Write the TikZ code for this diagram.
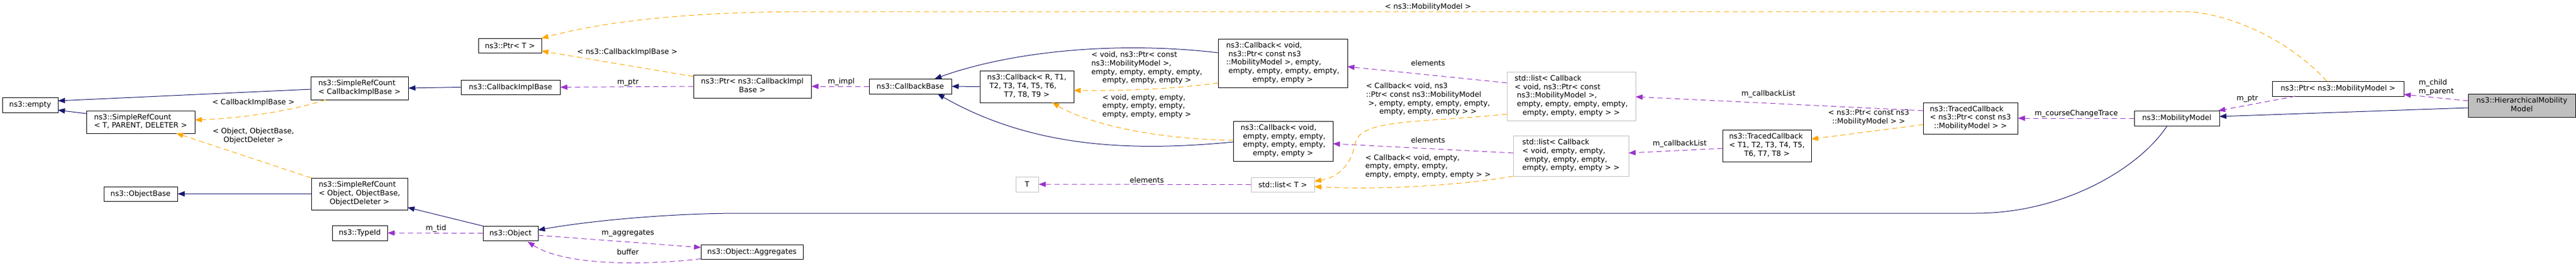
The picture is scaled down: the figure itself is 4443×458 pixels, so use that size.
\documentclass[tikz,border=0pt]{standalone}
\usepackage{fontspec}
\setmainfont{DejaVu Sans}
\usetikzlibrary{arrows.meta,calc}
\definecolor{navy}{HTML}{191970}
\definecolor{purp}{HTML}{9A32CD}
\definecolor{orng}{HTML}{FFA500}
\definecolor{gry}{HTML}{BFBFBF}
\newcommand{\mlines}[1]{\begin{tabular}{@{}l@{}}#1\end{tabular}}
\newcommand{\lastrow}[1]{\multicolumn{1}{@{}c@{}}{#1}}
\begin{document}
\begin{tikzpicture}[x=1pt,y=-1pt,
  font=\fontsize{12.7}{14.7}\selectfont,
  box/.style={draw=black, fill=white, line width=1pt, inner sep=0pt, align=center},
  ubox/.style={box, draw=gry},
  hbox/.style={box, fill=gry},
  lbl/.style={inner sep=0pt, align=center},
  tip/.style={-{Triangle[length=12pt,width=9pt]}},
  inh/.style={tip, draw=navy, line width=1pt},
  use/.style={tip, draw=purp, line width=1pt, dash pattern=on 9pt off 6pt},
  tpl/.style={tip, draw=orng, line width=1pt, dash pattern=on 9pt off 6pt}]
\useasboundingbox (0,0) rectangle (4443,458);

% nodes
\node[box, minimum width=96pt, minimum height=26pt] (empty) at (52,181) {ns3::empty};
\node[box, minimum width=187pt, minimum height=39pt] (srcT) at (242.5,210.5) {\mlines{ns3::SimpleRefCount\\\lastrow{< T, PARENT, DELETER >}}};
\node[box, minimum width=168pt, minimum height=40pt] (srcCIB) at (620,152) {\mlines{ns3::SimpleRefCount\\\lastrow{< CallbackImplBase >}}};
\node[box, minimum width=127pt, minimum height=25pt] (objbase) at (242.5,334.5) {ns3::ObjectBase};
\node[box, minimum width=166pt, minimum height=55pt] (srcObj) at (620,334.5) {\mlines{ns3::SimpleRefCount\\< Object, ObjectBase,\\\lastrow{ObjectDeleter >}}};
\node[box, minimum width=95pt, minimum height=26pt] (typeid) at (620.5,402) {ns3::TypeId};
\node[box, minimum width=109pt, minimum height=25pt] (ptrT) at (879.5,78.5) {ns3::Ptr< T >};
\node[box, minimum width=171pt, minimum height=25pt] (cib) at (880.5,150.5) {ns3::CallbackImplBase};
\node[box, minimum width=203pt, minimum height=40pt] (ptrCIB) at (1297.5,149) {\mlines{ns3::Ptr< ns3::CallbackImpl\\\lastrow{Base >}}};
\node[box, minimum width=95pt, minimum height=25pt] (object) at (880.5,402.5) {ns3::Object};
\node[box, minimum width=176pt, minimum height=25pt] (aggr) at (1297,434.5) {ns3::Object::Aggregates};
\node[box, minimum width=142pt, minimum height=26pt] (cbbase) at (1570,149) {ns3::CallbackBase};
\node[box, minimum width=162pt, minimum height=55pt] (cbR) at (1771,149.5) {\mlines{ns3::Callback< R, T1,\\\ T2, T3, T4, T5, T6,\\\lastrow{T7, T8, T9 >}}};
\node[ubox, minimum width=39pt, minimum height=26pt] (T) at (1771.5,318) {T};
\node[box, minimum width=223pt, minimum height=84pt] (cbPtr) at (2212.5,109) {\mlines{ns3::Callback< void,\\\ ns3::Ptr< const ns3\\::MobilityModel >, empty,\\\ empty, empty, empty, empty,\\\lastrow{empty, empty >}}};
\node[box, minimum width=172pt, minimum height=69pt] (cbEmpty) at (2213,243.5) {\mlines{ns3::Callback< void,\\\ empty, empty, empty,\\\ empty, empty, empty,\\\lastrow{empty, empty >}}};
\node[ubox, minimum width=109pt, minimum height=25pt] (listT) at (2212.5,318.5) {std::list< T >};
\node[ubox, minimum width=222pt, minimum height=84pt] (listPtr) at (2710,166) {\mlines{std::list< Callback\\< void, ns3::Ptr< const\\\ ns3::MobilityModel >,\\\ empty, empty, empty, empty,\\\lastrow{empty, empty, empty > >}}};
\node[ubox, minimum width=199pt, minimum height=70pt] (listEmpty) at (2709.5,269) {\mlines{std::list< Callback\\< void, empty, empty,\\\ empty, empty, empty,\\\lastrow{empty, empty, empty > >}}};
\node[box, minimum width=163pt, minimum height=54pt] (tcPtr) at (3398.5,204) {\mlines{ns3::TracedCallback\\< ns3::Ptr< const ns3\\\lastrow{::MobilityModel > >}}};
\node[box, minimum width=153pt, minimum height=55pt] (tcT) at (3047.5,251.5) {\mlines{ns3::TracedCallback\\< T1, T2, T3, T4, T5,\\\lastrow{T6, T7, T8 >}}};
\node[box, minimum width=227pt, minimum height=26pt] (ptrMM) at (4032.5,153) {ns3::Ptr< ns3::MobilityModel >};
\node[box, minimum width=147pt, minimum height=26pt] (mm) at (3754.5,204) {ns3::MobilityModel};
\node[hbox, minimum width=185pt, minimum height=40pt] (hier) at (4349.5,182) {\mlines{ns3::HierarchicalMobility\\\lastrow{Model}}};

% edge labels
\node[lbl] (l1) at (437,177) {< CallbackImplBase >};
\node[lbl] (l2) at (437,235) {\mlines{< Object, ObjectBase,\\\lastrow{ObjectDeleter >}}};
\node[lbl] (l3) at (1082,90) {< ns3::CallbackImplBase >};
\node[lbl] (l4) at (1083,143) {m\_ptr};
\node[lbl] (l5) at (752,394) {m\_tid};
\node[lbl] (l6) at (1083,403) {m\_aggregates};
\node[lbl] (l7) at (1083,435) {buffer};
\node[lbl] (l8) at (1451,141) {m\_impl};
\node[lbl] (l9) at (1978,118) {\mlines{< void, ns3::Ptr< const\\ns3::MobilityModel >,\\empty, empty, empty, empty,\\\lastrow{empty, empty, empty >}}};
\node[lbl] (l10) at (1978,184) {\mlines{< void, empty, empty,\\empty, empty, empty,\\\lastrow{empty, empty, empty >}}};
\node[lbl] (l11) at (1978,311) {elements};
\node[lbl] (l12) at (2463,12) {< ns3::MobilityModel >};
\node[lbl] (l13) at (2463,109) {elements};
\node[lbl] (l14) at (2463,172) {\mlines{< Callback< void, ns3\\::Ptr< const ns3::MobilityModel\\\ >, empty, empty, empty, empty,\\\lastrow{empty, empty, empty > >}}};
\node[lbl] (l15) at (2463,242) {elements};
\node[lbl] (l16) at (2463,288) {\mlines{< Callback< void, empty,\\empty, empty, empty,\\\lastrow{empty, empty, empty, empty > >}}};
\node[lbl] (l17) at (3050,162) {m\_callbackList};
\node[lbl] (l18) at (2897,248) {m\_callbackList};
\node[lbl] (l19) at (3223,203) {\mlines{< ns3::Ptr< const ns3\\\lastrow{::MobilityModel > >}}};
\node[lbl] (l20) at (3581,196) {m\_courseChangeTrace};
\node[lbl] (l21) at (3876,171) {m\_ptr};
\node[lbl] (l22) at (4202,151) {\mlines{m\_child\\\lastrow{m\_parent}}};

% edges
\draw[inh] ($(srcCIB)+(-84,2)$) -- ($(empty)+(48,-7)$);
\draw[inh] ($(srcT)+(-93.5,-14.5)$) -- ($(empty)+(48,9)$);
\draw[tpl] ($(srcCIB)+(-58,20)$) .. controls (510,190) and (420,204) .. ($(srcT)+(93.5,-3.5)$);
\draw[tpl] ($(srcObj)+(-83,-27.5)$) -- ($(srcT)+(61.5,19.5)$);
\draw[inh] (srcObj.west) -- (objbase.east);
\draw[inh] (cib.west) -- (srcCIB.east);
\draw[use] (ptrCIB.west) -- (cib.east);
\draw[tpl] ($(ptrCIB)+(-101.5,-17)$) -- ($(ptrT)+(54.5,9.5)$);
\draw[tpl] ($(ptrMM)+(-19.5,-13)$) .. controls (3940,60) and (3830,20) .. (3766,20) -- (1400,20) .. controls (1200,20) and (1050,35) .. ($(ptrT)+(54.5,-12.5)$);
\draw[inh] ($(object)+(-47.5,-12.5)$) -- ($(srcObj)+(83,23.5)$);
\draw[use] (object.west) -- (typeid.east);
\draw[use] ($(object)+(47.5,3.5)$) -- ($(aggr)+(-88,-7.5)$);
\draw[use] ($(aggr)+(-88,12)$) .. controls (1130,456) and (980,462) .. ($(object)+(29.5,14.5)$);
\draw[use] (cbbase.west) -- (ptrCIB.east);
\draw[inh] (cbR.west) -- (cbbase.east);
\draw[inh] ($(cbPtr)+(-111.5,-18)$) .. controls (1920,70) and (1740,90) .. ($(cbbase)+(42,-13)$);
\draw[inh] ($(cbEmpty)+(-86,1.5)$) .. controls (1950,262) and (1780,255) .. ($(cbbase)+(47,13)$);
\draw[tpl] ($(cbPtr)+(-111.5,34)$) .. controls (2040,152) and (1950,157) .. ($(cbR)+(81,6.5)$);
\draw[tpl] ($(cbEmpty)+(-86,-1.5)$) .. controls (1980,240) and (1870,210) .. ($(cbR)+(44,27.5)$);
\draw[use] (listT.west) -- (T.east);
\draw[use] ($(listPtr)+(-111,-23)$) -- ($(cbPtr)+(111.5,6)$);
\draw[use] ($(listEmpty)+(-99.5,-5)$) -- ($(cbEmpty)+(86,4.5)$);
\draw[tpl] ($(listPtr)+(-111,31)$) .. controls (2450,212) and (2350,205) .. (2338,245) .. controls (2330,285) and (2310,305) .. ($(listT)+(54.5,-5.5)$);
\draw[tpl] ($(listEmpty)+(-99.5,35)$) .. controls (2520,320) and (2380,328) .. ($(listT)+(54.5,3.5)$);
\draw[use] ($(tcPtr)+(-81.5,-13)$) -- ($(listPtr)+(111,1)$);
\draw[use] ($(tcT)+(-76.5,4.5)$) -- ($(listEmpty)+(99.5,-5)$);
\draw[tpl] ($(tcPtr)+(-81.5,11)$) -- ($(tcT)+(76.5,-11.5)$);
\draw[use] (mm.west) -- (tcPtr.east);
\draw[use] ($(ptrMM)+(-73.5,13)$) -- ($(mm)+(71.5,-13)$);
\draw[use] ($(hier)+(-92.5,-8)$) -- ($(ptrMM)+(113.5,10)$);
\draw[inh] ($(hier)+(-92.5,4)$) -- ($(mm)+(73.5,-3)$);
\draw[inh] ($(mm)+(-16.5,13)$) .. controls (3690,290) and (3560,368) .. (3407,368) -- (1276,368) .. controls (1150,368) and (1010,382) .. ($(object)+(47.5,-5.5)$);
\end{tikzpicture}
\end{document}
